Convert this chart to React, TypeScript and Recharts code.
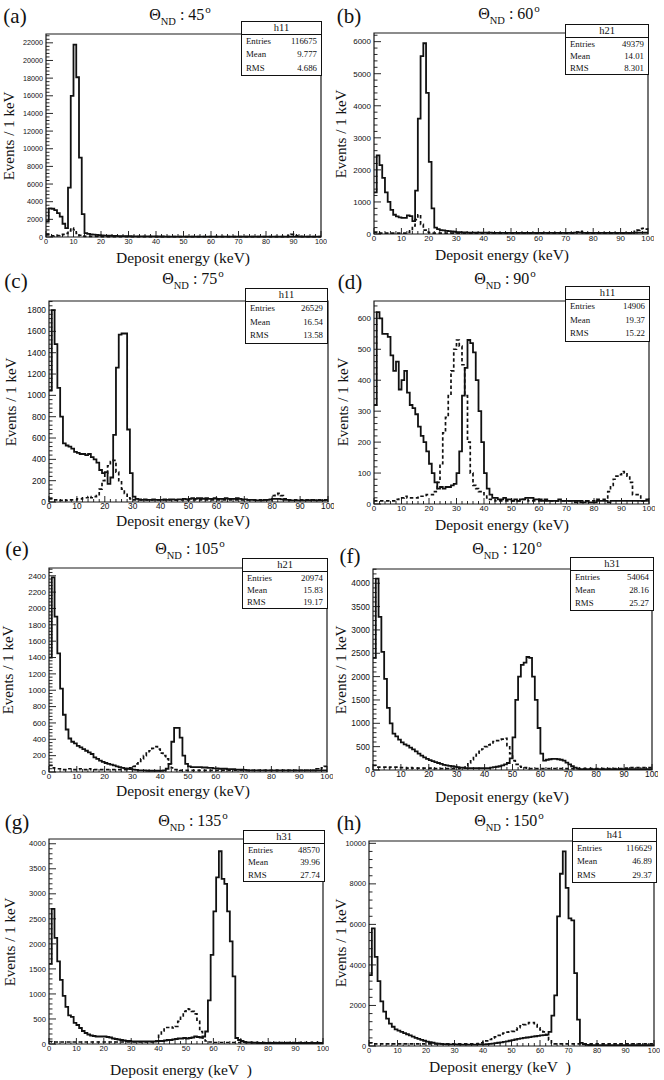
import React from "react";
import { LineChart, Line, XAxis, YAxis, ReferenceArea } from "recharts";

// bin edges 0..100 keV (1 keV bins)
const binEdges = Array.from({ length: 101 }, (_, i) => i);
const xMajor = [0, 10, 20, 30, 40, 50, 60, 70, 80, 90, 100];
const xTicks = Array.from({ length: 51 }, (_, i) => i * 2);

const solidA = [
  1800, 3250, 3200, 3050, 2700, 2300, 1500, 1000, 5600, 16000,
  21800, 18100, 9000, 2600, 450, 350, 300, 260, 230, 200,
  180, 160, 150, 140, 130, 120, 110, 100, 95, 90,
  85, 80, 75, 70, 70, 65, 65, 60, 60, 60,
  55, 55, 55, 50, 50, 50, 50, 50, 45, 45,
  45, 45, 45, 45, 40, 40, 40, 40, 40, 40,
  40, 40, 40, 40, 40, 40, 40, 40, 40, 40,
  40, 40, 40, 40, 40, 40, 40, 40, 40, 40,
  40, 40, 40, 40, 40, 40, 40, 40, 40, 40,
  40, 40, 40, 40, 40, 40, 40, 40, 40, 40,
];
const dashedA = [
  250, 150, 120, 150, 150, 200, 300, 400, 700, 1000,
  800, 400, 200, 100, 80, 70, 60, 60, 60, 50,
  50, 50, 50, 50, 50, 50, 50, 50, 50, 50,
  50, 50, 50, 50, 50, 50, 50, 50, 50, 50,
  50, 50, 50, 50, 50, 50, 50, 50, 50, 50,
  50, 50, 50, 50, 50, 50, 50, 50, 50, 50,
  50, 50, 50, 50, 50, 50, 50, 50, 50, 50,
  50, 50, 50, 50, 50, 50, 50, 50, 50, 50,
  50, 50, 50, 50, 50, 50, 50, 50, 150, 300,
  250, 120, 60, 50, 50, 50, 50, 50, 50, 50,
];

const solidB = [
  1300, 2450, 2150, 1750, 1300, 1000, 750, 600, 550, 520,
  500, 500, 580, 560, 400, 1350, 3600, 5550, 5950, 4400,
  2250, 800, 200, 150, 120, 110, 100, 90, 80, 70,
  60, 55, 50, 50, 45, 45, 40, 40, 40, 40,
  40, 40, 40, 35, 35, 35, 35, 35, 35, 35,
  35, 35, 35, 35, 35, 35, 35, 35, 35, 35,
  35, 35, 35, 35, 35, 35, 35, 35, 35, 35,
  35, 35, 35, 40, 50, 40, 35, 35, 35, 35,
  35, 35, 35, 35, 35, 35, 35, 35, 35, 35,
  35, 35, 35, 35, 35, 40, 40, 40, 40, 40,
];
const dashedB = [
  60, 40, 30, 30, 30, 30, 30, 30, 30, 30,
  30, 30, 50, 100, 250, 450, 600, 300, 120, 60,
  40, 30, 30, 30, 30, 30, 30, 30, 30, 30,
  30, 30, 30, 30, 30, 30, 30, 30, 30, 30,
  30, 30, 30, 30, 30, 30, 30, 30, 30, 30,
  30, 30, 30, 30, 30, 30, 30, 30, 30, 30,
  30, 30, 30, 30, 30, 30, 30, 30, 30, 30,
  30, 30, 30, 30, 60, 80, 50, 30, 30, 30,
  30, 30, 30, 30, 30, 30, 30, 30, 30, 30,
  30, 30, 30, 30, 30, 80, 120, 170, 180, 150,
];

const solidC = [
  1050, 1800, 1480, 1070, 800, 550, 530, 520, 500, 470,
  460, 450, 450, 440, 450, 420, 400, 370, 300, 270,
  280, 170, 230, 630, 1260, 1570, 1580, 1580, 680, 270,
  50, 30, 25, 20, 25, 20, 20, 25, 20, 20,
  20, 25, 20, 25, 25, 20, 25, 25, 30, 25,
  30, 35, 30, 35, 35, 30, 35, 30, 30, 35,
  30, 30, 30, 35, 30, 30, 30, 35, 30, 25,
  25, 20, 20, 20, 15, 15, 15, 20, 20, 25,
  30, 30, 30, 25, 20, 20, 15, 15, 15, 15,
  15, 15, 15, 15, 20, 15, 15, 15, 15, 20,
];
const dashedC = [
  30, 20, 20, 20, 15, 20, 15, 20, 20, 20,
  30, 30, 40, 40, 50, 40, 50, 60, 120, 200,
  270, 340, 380, 390, 280, 200, 120, 80, 40, 30,
  20, 20, 20, 20, 20, 20, 20, 20, 20, 20,
  20, 20, 20, 20, 20, 20, 20, 20, 20, 20,
  20, 20, 20, 20, 20, 20, 20, 20, 20, 20,
  20, 20, 20, 20, 20, 20, 20, 20, 20, 20,
  20, 20, 20, 20, 20, 20, 20, 20, 20, 20,
  60, 70, 80, 60, 30, 20, 20, 20, 20, 20,
  20, 20, 20, 20, 20, 20, 20, 20, 20, 20,
];

const solidD = [
  320, 620, 600, 550, 550, 540, 480, 430, 460, 370,
  400, 430, 360, 320, 310, 290, 250, 220, 200, 170,
  130, 100, 70, 50, 55, 50, 55, 55, 60, 65,
  100, 170, 350, 440, 530, 520, 490, 400, 300, 200,
  100, 50, 30, 20, 20, 15, 15, 20, 15, 15,
  10, 15, 10, 15, 15, 20, 20, 20, 15, 15,
  15, 10, 15, 10, 10, 10, 10, 15, 10, 10,
  10, 10, 10, 5, 10, 5, 5, 10, 5, 5,
  5, 10, 10, 10, 10, 5, 10, 10, 10, 10,
  10, 10, 10, 10, 10, 10, 10, 10, 10, 15,
];
const dashedD = [
  10, 10, 10, 10, 10, 10, 10, 10, 15, 20,
  20, 25, 20, 20, 20, 20, 25, 25, 25, 30,
  30, 30, 40, 70, 130, 230, 280, 350, 430, 500,
  530, 510, 450, 350, 200, 100, 60, 50, 40, 40,
  30, 20, 15, 15, 10, 10, 10, 10, 10, 10,
  10, 10, 10, 10, 15, 15, 10, 10, 10, 10,
  10, 10, 10, 10, 10, 10, 10, 10, 10, 10,
  10, 10, 10, 10, 10, 10, 10, 10, 10, 10,
  10, 15, 15, 15, 20, 40, 60, 80, 90, 95,
  105, 100, 90, 70, 30, 30, 30, 10, 10, 10,
];

const solidE = [
  1400, 2380, 1900, 1450, 1020, 700, 520, 410, 370, 350,
  320, 300, 280, 260, 240, 220, 180, 160, 140, 125,
  110, 100, 90, 80, 70, 60, 50, 45, 40, 35,
  30, 25, 20, 20, 20, 15, 15, 15, 15, 15,
  15, 20, 40, 100, 370, 540, 540, 420, 200, 100,
  70, 60, 60, 60, 60, 55, 55, 50, 50, 45,
  45, 40, 40, 40, 35, 35, 35, 30, 30, 30,
  25, 20, 20, 20, 20, 20, 20, 20, 20, 20,
  20, 20, 20, 20, 20, 20, 20, 20, 20, 20,
  20, 20, 20, 20, 20, 20, 20, 20, 20, 20,
];
const dashedE = [
  80, 50, 40, 40, 40, 30, 40, 40, 40, 30,
  30, 40, 30, 30, 40, 30, 30, 30, 30, 30,
  30, 30, 30, 30, 30, 30, 30, 30, 40, 50,
  70, 100, 130, 160, 200, 230, 260, 290, 310, 280,
  230, 200, 160, 100, 50, 30, 30, 20, 20, 20,
  20, 20, 20, 20, 20, 20, 20, 20, 20, 20,
  20, 20, 20, 20, 20, 20, 20, 20, 20, 20,
  20, 20, 20, 20, 20, 20, 20, 20, 20, 20,
  20, 20, 20, 20, 20, 20, 20, 20, 20, 20,
  20, 20, 20, 20, 20, 20, 40, 30, 50, 70,
];

const solidF = [
  2400, 4100, 3280, 2530, 1950, 1330, 1000, 780, 720, 650,
  590, 550, 520, 480, 440, 400, 350, 310, 270, 240,
  210, 190, 170, 150, 130, 110, 100, 90, 80, 70,
  60, 50, 50, 40, 40, 40, 40, 40, 40, 40,
  40, 40, 50, 60, 70, 80, 100, 120, 150, 250,
  700, 1500, 2000, 2250, 2300, 2420, 2400, 2000, 1500, 900,
  350, 200, 220, 230, 240, 240, 230, 220, 200, 160,
  120, 80, 50, 30, 20, 20, 20, 20, 20, 20,
  20, 20, 20, 20, 20, 20, 20, 20, 20, 20,
  20, 20, 20, 20, 20, 20, 20, 20, 20, 20,
];
const dashedF = [
  100, 60, 60, 60, 60, 50, 60, 60, 60, 50,
  50, 50, 40, 50, 40, 40, 40, 40, 40, 40,
  40, 40, 30, 30, 30, 30, 30, 30, 30, 30,
  30, 40, 40, 80, 150, 220, 300, 360, 400, 450,
  500, 540, 580, 610, 630, 650, 660, 680, 520, 350,
  200, 120, 80, 60, 50, 40, 30, 30, 30, 30,
  30, 30, 30, 30, 30, 30, 30, 30, 30, 30,
  30, 30, 30, 30, 30, 30, 30, 30, 30, 30,
  30, 30, 30, 30, 30, 30, 30, 30, 30, 30,
  40, 40, 50, 50, 50, 50, 50, 50, 50, 50,
];

const solidG = [
  1600, 2700, 2120, 1650, 1280, 960, 740, 570, 540, 420,
  380, 320, 260, 220, 190, 170, 160, 150, 150, 150,
  150, 140, 130, 110, 100, 90, 80, 70, 60, 60,
  50, 50, 50, 50, 50, 50, 50, 50, 50, 55,
  60, 60, 70, 80, 80, 90, 100, 110, 110, 120,
  110, 120, 130, 150, 140, 130, 150, 250, 870, 1780,
  2650, 3330, 3850, 3300, 3200, 2650, 2050, 1350, 120, 80,
  60, 40, 30, 30, 25, 25, 20, 20, 20, 20,
  20, 20, 20, 20, 20, 20, 20, 20, 20, 20,
  20, 20, 20, 20, 20, 20, 20, 20, 20, 20,
];
const dashedG = [
  50, 40, 40, 40, 40, 40, 40, 40, 40, 40,
  40, 40, 40, 40, 40, 40, 40, 40, 40, 40,
  40, 40, 40, 40, 40, 40, 40, 40, 40, 40,
  40, 40, 40, 40, 40, 40, 40, 40, 40, 60,
  200, 260, 300, 330, 340, 320, 350, 450, 560, 650,
  700, 690, 650, 600, 450, 250, 120, 60, 40, 40,
  30, 30, 30, 30, 30, 30, 30, 30, 30, 30,
  30, 30, 30, 30, 30, 30, 30, 30, 30, 30,
  30, 30, 30, 30, 30, 30, 30, 30, 30, 30,
  30, 30, 30, 30, 30, 30, 30, 30, 30, 30,
];

const solidH = [
  3500, 5800, 4400, 3200, 2200, 1700, 1350, 1100, 950, 820,
  760, 700, 640, 580, 520, 460, 400, 350, 300, 260,
  220, 190, 160, 130, 110, 100, 90, 80, 80, 80,
  80, 70, 70, 70, 70, 70, 70, 70, 80, 80,
  80, 90, 100, 120, 140, 160, 180, 200, 230, 260,
  290, 320, 350, 380, 400, 420, 440, 460, 480, 500,
  520, 540, 560, 700, 1500, 2500, 6400, 8500, 9600, 7800,
  6300, 6200, 3600, 1300, 150, 80, 60, 50, 40, 40,
  40, 40, 40, 40, 40, 40, 40, 40, 40, 40,
  40, 40, 40, 40, 40, 40, 40, 40, 40, 40,
];
const dashedH = [
  150, 100, 100, 100, 100, 100, 100, 100, 100, 100,
  100, 100, 100, 100, 100, 100, 100, 100, 100, 100,
  100, 100, 100, 100, 100, 100, 100, 100, 100, 100,
  100, 100, 100, 100, 100, 100, 100, 100, 120, 150,
  200, 250, 320, 400, 450, 520, 600, 640, 680, 700,
  720, 800, 900, 1000, 1050, 1100, 1150, 1150, 1050, 900,
  800, 700, 550, 300, 150, 100, 100, 100, 100, 100,
  100, 100, 100, 100, 100, 100, 100, 100, 100, 100,
  100, 100, 100, 100, 100, 100, 100, 100, 100, 100,
  100, 100, 100, 100, 100, 100, 100, 100, 100, 100,
];

// y axis tick labels
const yMajorA = [0, 2000, 4000, 6000, 8000, 10000, 12000, 14000, 16000, 18000, 20000, 22000];
const yMajorB = [0, 1000, 2000, 3000, 4000, 5000, 6000];
const yMajorC = [0, 200, 400, 600, 800, 1000, 1200, 1400, 1600, 1800];
const yMajorD = [0, 100, 200, 300, 400, 500, 600];
const yMajorE = [0, 200, 400, 600, 800, 1000, 1200, 1400, 1600, 1800, 2000, 2200, 2400];
const yMajorF = [0, 500, 1000, 1500, 2000, 2500, 3000, 3500, 4000];
const yMajorG = [0, 500, 1000, 1500, 2000, 2500, 3000, 3500, 4000];
const yMajorH = [0, 2000, 4000, 6000, 8000, 10000];

const angles = [45, 60, 75, 90, 105, 120, 135, 150];
const histNames = ["h11", "h21", "h11", "h11", "h21", "h31", "h31", "h41"];
const entries = ["116675", "49379", "26529", "14906", "20974", "54064", "48570", "116629"];
const means = ["9.777", "14.01", "16.54", "19.37", "15.83", "28.16", "39.96", "46.89"];
const rmsValues = ["4.686", "8.301", "13.58", "15.22", "19.17", "25.27", "27.74", "29.37"];

const X_TITLE = "Deposit energy (keV)";
const X_TITLE_WIDE = "Deposit energy (keV\u2002)";

const panels = [
  { letter: "(a)", solid: solidA, dashed: dashedA, yMax: 23000, yMajor: yMajorA, yStep: 400, frame: [46, 34, 321, 237], fs: 7.2, title: [180, 16], stats: [241, 21, 81, 55], xTitle: [183, 258], yTitle: [9, 136], letterPos: [15, 16], xText: X_TITLE },
  { letter: "(b)", solid: solidB, dashed: dashedB, yMax: 6270, yMajor: yMajorB, yStep: 200, frame: [374, 33, 648, 234], fs: 8, title: [509, 15], stats: [565, 24, 84, 51], xTitle: [502, 255], yTitle: [341, 134], letterPos: [349, 16], xText: X_TITLE },
  { letter: "(c)", solid: solidC, dashed: dashedC, yMax: 1885, yMajor: yMajorC, yStep: 40, frame: [49, 301, 328, 502], fs: 8.4, title: [193, 280], stats: [245, 288, 83, 56], xTitle: [183, 521], yTitle: [11, 402], letterPos: [16, 281], xText: X_TITLE },
  { letter: "(d)", solid: solidD, dashed: dashedD, yMax: 656, yMajor: yMajorD, yStep: 20, frame: [374, 301, 649, 504], fs: 8, title: [505, 280], stats: [565, 286, 85, 56], xTitle: [502, 525], yTitle: [343, 402], letterPos: [350, 282], xText: X_TITLE },
  { letter: "(e)", solid: solidE, dashed: dashedE, yMax: 2495, yMajor: yMajorE, yStep: 40, frame: [49, 568, 327, 772], fs: 8, title: [190, 550], stats: [242, 558, 86, 51], xTitle: [183, 791], yTitle: [8, 670], letterPos: [17, 549], xText: X_TITLE },
  { letter: "(f)", solid: solidF, dashed: dashedF, yMax: 4305, yMajor: yMajorF, yStep: 100, frame: [373, 569, 652, 770], fs: 8.4, title: [507, 550], stats: [570, 557, 84, 54], xTitle: [502, 797], yTitle: [341, 670], letterPos: [350, 556], xText: X_TITLE },
  { letter: "(g)", solid: solidG, dashed: dashedG, yMax: 4095, yMajor: yMajorG, yStep: 100, frame: [49, 839, 323, 1044], fs: 7.6, title: [193, 822], stats: [243, 830, 82, 52], xTitle: [181, 1070], yTitle: [10, 942], letterPos: [17, 822], xText: X_TITLE_WIDE },
  { letter: "(h)", solid: solidH, dashed: dashedH, yMax: 10115, yMajor: yMajorH, yStep: 400, frame: [369, 841, 654, 1046], fs: 7.4, title: [509, 822], stats: [572, 828, 85, 55], xTitle: [500, 1067], yTitle: [341, 943], letterPos: [349, 823], xText: X_TITLE_WIDE },
];

const PAD_L = 40;
const PAD_T = 6;
const PAD_R = 6;
const PAD_B = 22;
const SERIF = '"Liberation Serif", "Times New Roman", serif';
const SANS = '"Liberation Sans", Arial, sans-serif';

function XTick({ x, y, payload, fs }: any) {
  const major = xMajor.includes(payload.value);
  return (
    <g>
      <line x1={x} x2={x} y1={y} y2={y - (major ? 6 : 3)} stroke="#111" strokeWidth={0.9} />
      {major && (
        <text x={x} y={y + 1.5} dy="0.71em" fontSize={fs} fontFamily={SANS} textAnchor="middle" fill="#111">
          {payload.value}
        </text>
      )}
    </g>
  );
}

function YTick({ x, y, payload, fs, major }: any) {
  const isMajor = major.includes(payload.value);
  return (
    <g>
      <line x1={x} x2={x + (isMajor ? 7 : 3.5)} y1={y} y2={y} stroke="#111" strokeWidth={0.9} />
      {isMajor && (
        <text x={x - 3} y={y} dy="0.35em" fontSize={fs} fontFamily={SANS} textAnchor="end" fill="#111">
          {payload.value}
        </text>
      )}
    </g>
  );
}

function Panel({ p, idx }: any) {
  const [x0, y0, x1, y1] = p.frame;
  const w = x1 - x0 + PAD_L + PAD_R;
  const h = y1 - y0 + PAD_T + PAD_B;
  const rows = binEdges.map((e) => ({ e, s: p.solid[Math.min(e, 99)], d: p.dashed[Math.min(e, 99)] }));
  const yTicks: number[] = [];
  for (let v = 0; v <= p.yMax; v += p.yStep) yTicks.push(v);
  const [sx, sy, sw, sh] = p.stats;
  const headH = 12;
  const rowH = (sh - headH - 3) / 3;

  return (
    <>
      <div style={{ position: "absolute", left: x0 - PAD_L, top: y0 - PAD_T }}>
        <LineChart width={w} height={h} data={rows} margin={{ top: PAD_T, right: PAD_R, bottom: 0, left: 0 }}>
          <XAxis
            dataKey="e"
            type="number"
            domain={[0, 100]}
            ticks={xTicks}
            interval={0}
            height={PAD_B}
            axisLine={false}
            tickLine={false}
            tickSize={0}
            tickMargin={0}
            tick={(props: any) => <XTick {...props} fs={p.fs} />}
          />
          <YAxis
            type="number"
            domain={[0, p.yMax]}
            ticks={yTicks}
            interval={0}
            width={PAD_L}
            axisLine={false}
            tickLine={false}
            tickSize={0}
            tickMargin={0}
            tick={(props: any) => <YTick {...props} fs={p.fs} major={p.yMajor} />}
          />
          <ReferenceArea x1={0} x2={100} y1={0} y2={p.yMax} fill="none" stroke="#1a1a1a" strokeWidth={1.2} ifOverflow="visible" />
          <Line type="stepAfter" dataKey="d" stroke="#111" strokeWidth={1.7} strokeDasharray="3.5 2.5" dot={false} isAnimationActive={false} />
          <Line type="stepAfter" dataKey="s" stroke="#111" strokeWidth={1.8} dot={false} isAnimationActive={false} />
        </LineChart>
      </div>

      <div style={{ position: "absolute", left: p.letterPos[0], top: p.letterPos[1], transform: "translate(-50%, -50%)", fontFamily: SERIF, fontSize: 21, lineHeight: 1, whiteSpace: "nowrap", color: "#111" }}>
        {p.letter}
      </div>

      <div style={{ position: "absolute", left: p.title[0], top: p.title[1], transform: "translate(-50%, -50%)", fontFamily: SERIF, fontSize: 16, whiteSpace: "nowrap", color: "#111", lineHeight: "18px" }}>
        Θ<span style={{ fontSize: 10.5, position: "relative", top: 5 }}>ND</span> : {angles[idx]}
        <span style={{ fontSize: 11, position: "relative", top: -7, marginLeft: 1 }}>o</span>
      </div>

      <div style={{ position: "absolute", left: sx, top: sy, width: sw, height: sh, boxSizing: "border-box", border: "1px solid #111", background: "#fff", fontFamily: SERIF, color: "#111" }}>
        <div style={{ height: headH, lineHeight: headH + "px", textAlign: "center", fontSize: 10.5, borderBottom: "1px solid #111" }}>{histNames[idx]}</div>
        {[["Entries", entries[idx]], ["Mean", means[idx]], ["RMS", rmsValues[idx]]].map(([k, v]) => (
          <div key={k} style={{ height: rowH, lineHeight: rowH + "px", fontSize: 8.8, display: "flex", justifyContent: "space-between", padding: "0 4px" }}>
            <span>{k}</span>
            <span>{v}</span>
          </div>
        ))}
      </div>

      <div style={{ position: "absolute", left: p.xTitle[0], top: p.xTitle[1], transform: "translate(-50%, -50%)", fontFamily: SERIF, fontSize: 15.5, lineHeight: 1, whiteSpace: "nowrap", color: "#111" }}>
        {p.xText}
      </div>

      <div style={{ position: "absolute", left: p.yTitle[0], top: p.yTitle[1], transform: "translate(-50%, -50%) rotate(-90deg)", fontFamily: SERIF, fontSize: 15, lineHeight: 1, whiteSpace: "nowrap", color: "#111" }}>
        Events / 1 keV
      </div>
    </>
  );
}

export default function App() {
  return (
    <div style={{ position: "absolute", left: 0, top: 0, width: 664, height: 1080, background: "#fff", overflow: "hidden" }}>
      {panels.map((p, i) => (
        <Panel key={p.letter} p={p} idx={i} />
      ))}
    </div>
  );
}
